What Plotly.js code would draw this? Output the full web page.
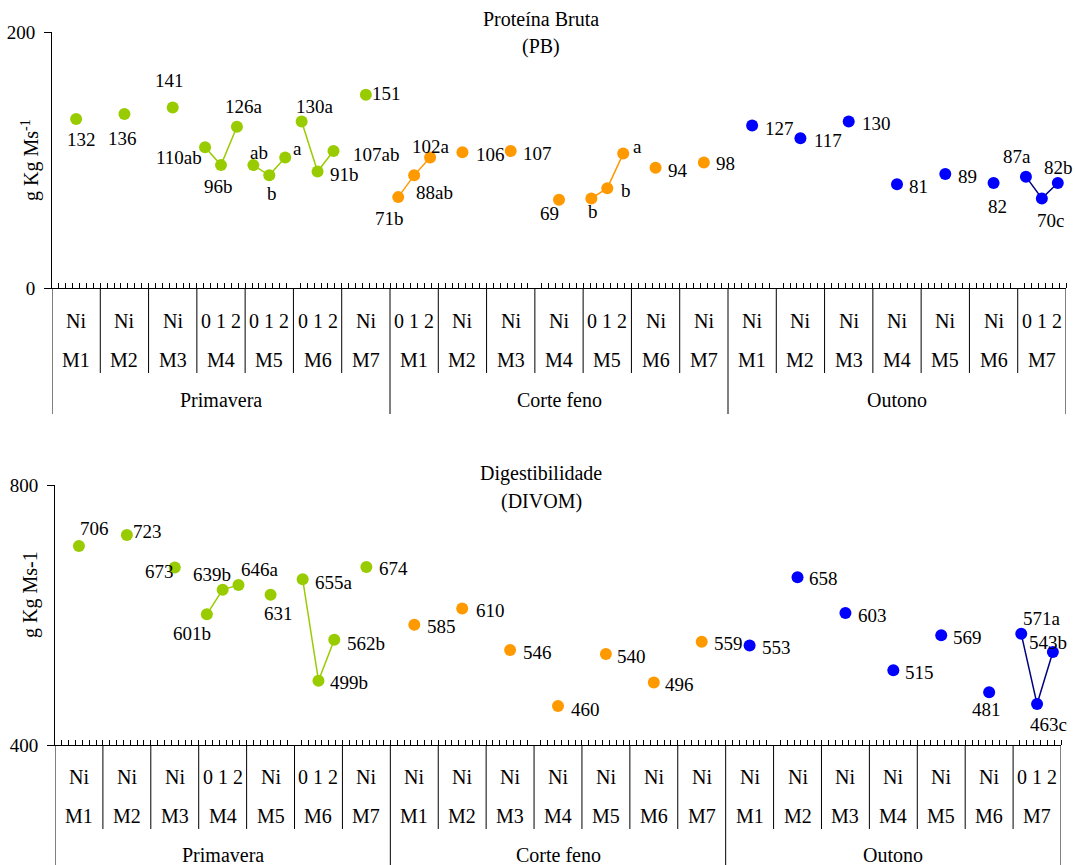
<!DOCTYPE html>
<html>
<head>
<meta charset="utf-8">
<script src="https://cdn.plot.ly/plotly-3.0.1.min.js"></script>
<style>html,body{margin:0;padding:0;background:#fff;}#chart{width:1075px;height:865px;}</style>
</head>
<body>
<div id="chart"></div>
<script>
// ---------- DATA ----------
const groupNames = ['M1','M2','M3','M4','M5','M6','M7'];
const seasonNames = ['Primavera','Corte feno','Outono'];
const singleLabel = 'Ni';
const doseLabel = '0 1 2';

// Proteína Bruta (PB), g Kg Ms-1
const pbPrimavera = [[132],[136],[141],[110,96,126],[96,88,102],[130,91,107],[151]];
const pbPrimaveraText = [['132'],['136'],['141'],['110ab','96b','126a'],['ab','b','a'],['130a','91b','107ab'],['151']];
const pbCorte = [[71,88,102],[106],[107],[69],[70,78,105],[94],[98]];
const pbCorteText = [['71b','88ab','102a'],['106'],['107'],['69'],['b','b','a'],['94'],['98']];
const pbOutono = [[127],[117],[130],[81],[89],[82],[87,70,82]];
const pbOutonoText = [['127'],['117'],['130'],['81'],['89'],['82'],['87a','70c','82b']];

// Digestibilidade (DIVOM), g Kg Ms-1
const divPrimavera = [[706],[723],[673],[601,639,646],[631],[655,499,562],[674]];
const divPrimaveraText = [['706'],['723'],['673'],['601b','639b','646a'],['631'],['655a','499b','562b'],['674']];
const divCorte = [[585],[610],[546],[460],[540],[496],[559]];
const divCorteText = [['585'],['610'],['546'],['460'],['540'],['496'],['559']];
const divOutono = [[553],[658],[603],[515],[569],[481],[571,463,543]];
const divOutonoText = [['553'],['658'],['603'],['515'],['569'],['481'],['571a','463c','543b']];

// ---------- STYLE (label offsets in px: [dx, dy down]) ----------
const pbPrimaveraOff = [[[5,20]],[[-2,25]],[[-3,-27]],[[-26,10],[-3,21],[7,-20]],[[6,-13],[3,18],[12,-9]],[[13,-15],[27,3],[42,3]],[[21,-1]]];
const pbCorteOff = [[[-9,21],[20,17],[1,-11]],[[28,2]],[[27,2]],[[-10,14]],[[2,13],[19,2],[14,-7]],[[22,3]],[[22,1]]];
const pbOutonoOff = [[[27,3]],[[28,2]],[[28,2]],[[21,2]],[[22,2]],[[4,23]],[[-9,-20],[9,22],[1,-16]]];
const divPrimaveraOff = [[[16,-18]],[[21,-4]],[[-15,4]],[[-15,19],[-11,-15],[22,-16]],[[8,19]],[[31,3],[31,2],[32,4]],[[27,2]]];
const divCorteOff = [[[27,2]],[[28,2]],[[27,2]],[[27,3]],[[26,2]],[[26,2]],[[27,2]]];
const divOutonoOff = [[[27,2]],[[26,1]],[[27,2]],[[26,2]],[[26,2]],[[-3,17]],[[21,-15],[11,20],[-5,-10]]];

const FONT = 'Liberation Serif, Times New Roman, serif';
const LABEL_SIZE = 19, CAT_SIZE = 20, TITLE_SIZE = 20, TICK_SIZE = 19;
const seasonColors = ['#99CC00','#FF9900','#0000FF'];
const seasonLineColors = ['#99CC00','#FF9900','#000080'];

const W = 1075, H = 865, ML = 52, MR = 9, MT = 32, MB = 120;
const PH = H - MT - MB, PW = W - ML - MR;
const py = v => (H - MB - v) / PH;       // pixel row -> paper y
const pxp = v => (v - ML) / PW;           // pixel col -> paper x
const fracs3 = [0.17, 0.5, 0.83];
const pos = (g, n, k) => g + (n === 1 ? 0.5 : fracs3[k]);

const traces = [];
const annotations = [];
const shapes = [];

function addChart(seasonData, seasonText, seasonOff, xa, ya, xref, yref) {
  seasonData.forEach((groups, s) => {
    const xs = [], ys = [];
    groups.forEach((vals, gi) => {
      const g = s * 7 + gi;
      vals.forEach((v, k) => {
        xs.push(pos(g, vals.length, k)); ys.push(v);
        const off = seasonOff[s][gi][k];
        annotations.push({
          x: pos(g, vals.length, k), y: v, xref: xref, yref: yref,
          text: seasonText[s][gi][k], showarrow: false,
          xshift: off[0], yshift: -off[1],
          xanchor: 'center', yanchor: 'middle',
          font: {family: FONT, size: LABEL_SIZE, color: '#000'}
        });
      });
      xs.push(null); ys.push(null);
    });
    traces.push({
      type: 'scatter', mode: 'lines+markers', x: xs, y: ys,
      xaxis: xa, yaxis: ya, connectgaps: false, hoverinfo: 'skip',
      line: {color: seasonLineColors[s], width: 1.5},
      marker: {color: seasonColors[s], size: 12, line: {width: 0}},
      showlegend: false
    });
  });
}

addChart([pbPrimavera, pbCorte, pbOutono], [pbPrimaveraText, pbCorteText, pbOutonoText],
         [pbPrimaveraOff, pbCorteOff, pbOutonoOff], 'x', 'y', 'x', 'y');
addChart([divPrimavera, divCorte, divOutono], [divPrimaveraText, divCorteText, divOutonoText],
         [divPrimaveraOff, divCorteOff, divOutonoOff], 'x2', 'y2', 'x2', 'y2');

// category label rows and separators
function addCategoryAxis(seasonData, xref, axisPx, rowsPx, innerEnd, seasonEnd) {
  seasonData.forEach((groups, s) => {
    groups.forEach((vals, gi) => {
      const g = s * 7 + gi;
      annotations.push({x: g + 0.5, y: py(rowsPx[0]), xref: xref, yref: 'paper', showarrow: false,
        text: vals.length === 1 ? singleLabel : doseLabel, xanchor: 'center', yanchor: 'middle',
        font: {family: FONT, size: CAT_SIZE, color: '#000'}});
      annotations.push({x: g + 0.5, y: py(rowsPx[1]), xref: xref, yref: 'paper', showarrow: false,
        text: groupNames[gi], xanchor: 'center', yanchor: 'middle',
        font: {family: FONT, size: CAT_SIZE, color: '#000'}});
    });
    annotations.push({x: s * 7 + 3.5, y: py(rowsPx[2]), xref: xref, yref: 'paper', showarrow: false,
      text: seasonNames[s], xanchor: 'center', yanchor: 'middle',
      font: {family: FONT, size: CAT_SIZE, color: '#000'}});
  });
  for (let b = 0; b <= 21; b++) {
    const isSeason = b % 7 === 0;
    shapes.push({type: 'line', xref: xref, yref: 'paper', x0: b, x1: b,
      y0: py(axisPx), y1: py(isSeason ? seasonEnd : innerEnd),
      line: {color: '#000', width: 1}});
  }
}
addCategoryAxis([pbPrimavera, pbCorte, pbOutono], 'x', 288, [321, 360, 400], 373, 414);
addCategoryAxis([divPrimavera, divCorte, divOutono], 'x2', 745, [777, 816, 855], 829, 866);

// titles
const titleAnn = (text, ypx) => ({x: pxp(541), y: py(ypx), xref: 'paper', yref: 'paper', showarrow: false, text: text,
  xanchor: 'center', yanchor: 'middle', font: {family: FONT, size: TITLE_SIZE, color: '#000'}});
annotations.push(titleAnn('Proteína Bruta', 19));
annotations.push(titleAnn('(PB)', 47));
annotations.push(titleAnn('Digestibilidade', 473));
annotations.push(titleAnn('(DIVOM)', 501));
// y-axis titles
annotations.push({x: pxp(30), y: py(160), xref: 'paper', yref: 'paper', showarrow: false, textangle: -90,
  text: 'g Kg Ms<sup>-1</sup>', xanchor: 'center', yanchor: 'middle', font: {family: FONT, size: TITLE_SIZE, color: '#000'}});
annotations.push({x: pxp(30), y: py(595), xref: 'paper', yref: 'paper', showarrow: false, textangle: -90,
  text: 'g Kg Ms-1', xanchor: 'center', yanchor: 'middle', font: {family: FONT, size: TITLE_SIZE, color: '#000'}});

const xCommon = {
  range: [0, 21], showgrid: false, zeroline: false, showline: true, linecolor: '#000', linewidth: 1,
  showticklabels: false, ticks: '', fixedrange: true,
  minor: {dtick: 1/7, tick0: 0, ticks: 'inside', ticklen: 5, tickcolor: '#000', tickwidth: 1, showgrid: false}
};
const yCommon = {
  showgrid: false, zeroline: false, showline: true, linecolor: '#000', linewidth: 1,
  ticks: 'outside', ticklen: 7, tickcolor: '#000', ticklabelstandoff: 5,
  tickfont: {family: FONT, size: TICK_SIZE, color: '#000'}
};

const layout = {
  width: W, height: H,
  margin: {l: ML, r: MR, t: MT, b: MB},
  paper_bgcolor: '#fff', plot_bgcolor: 'rgba(0,0,0,0)',
  showlegend: false,
  xaxis: Object.assign({}, xCommon, {domain: [0, 1], anchor: 'y'}),
  yaxis: Object.assign({}, yCommon, {domain: [py(288), 1], range: [0, 200], tickvals: [0, 200], anchor: 'x'}),
  xaxis2: Object.assign({}, xCommon, {domain: [pxp(55), pxp(1061)], anchor: 'y2'}),
  yaxis2: Object.assign({}, yCommon, {domain: [0, py(485)], range: [400, 800], tickvals: [400, 800], anchor: 'x2'}),
  annotations: annotations,
  shapes: shapes
};

Plotly.newPlot('chart', traces, layout, {displayModeBar: false, staticPlot: true});
</script>
</body>
</html>
